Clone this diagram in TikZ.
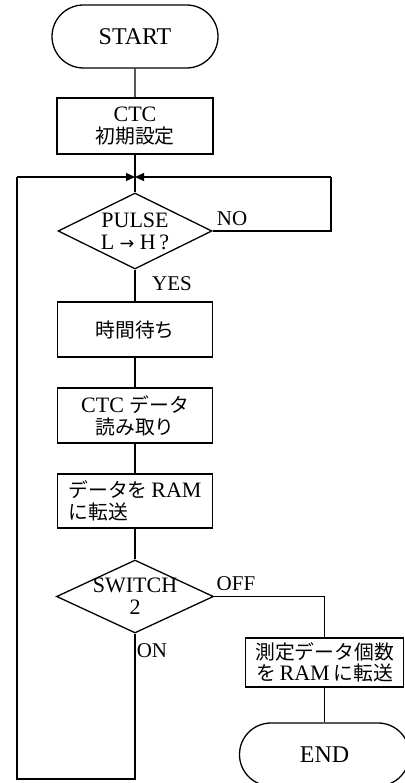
\documentclass[tikz,border=0pt]{standalone}
\usepackage{fontspec}
\setmainfont{Liberation Serif}
\newfontfamily\jp[Scale=0.9]{Noto Sans CJK JP}
\newfontfamily\sym[Scale=0.8]{DejaVu Sans}
\usetikzlibrary{arrows.meta,shapes.geometric,shapes.misc}
\newcommand\J[1]{{\jp #1}}
\begin{document}
\begin{tikzpicture}[x=1pt,y=-1pt, line width=1.3pt,
 every node/.style={font=\fontsize{22}{24}\selectfont},
 term/.style={draw, rounded rectangle, minimum width=166pt, minimum height=63pt, inner sep=0pt, font=\fontsize{24}{26}\selectfont},
 proc/.style={draw, rectangle, minimum width=155pt, minimum height=55pt, inner sep=0pt, align=center},
 dec/.style={draw, diamond, aspect=2, inner sep=-6pt, align=center, font=\fontsize{22}{24}\selectfont},
 lbl/.style={font=\fontsize{21}{22}\selectfont, inner sep=0pt},
 arr/.style={-{Triangle[length=9pt,width=8pt]}}]
\useasboundingbox (0,0) rectangle (404,783);

% nodes
\node[term] (start) at (135,36.5) {START};
\node[proc, minimum width=156pt, minimum height=56pt] (ctc) at (135,126) {CTC\\[-2pt]\J{初期設定}};
\coordinate (j) at (135,177);
\node[dec, minimum width=154pt, minimum height=76pt] (d1) at (135,231) {PULSE\\[-2pt]L {\sym →} H\,?};
\node[proc] (wait) at (135,329.5) {\J{時間待ち}};
\node[proc] (read) at (135,415.5) {CTC \J{データ}\\[-2pt]\J{読み取り}};
\node[proc, minimum height=54pt, align=left] (xfer) at (135,501) {\J{データを}\,RAM\\[-2pt]\J{に転送}};
\node[dec, minimum width=157pt, minimum height=73pt] (d2) at (135,596.5) {SWITCH\\[-2pt]2};
\node[proc, minimum width=158pt, minimum height=49pt] (cnt) at (324.5,662.5) {\J{測定データ個数}\\[-3pt]\J{を}\,RAM\,\J{に転送}};
\node[term, minimum width=170pt] (end) at (324.5,754.5) {END};

% labels
\node[lbl] (no) at (232,219) {NO};
\node[lbl] (yes) at (172,284) {YES};
\node[lbl] (off) at (236,584) {OFF};
\node[lbl] (on) at (152,651) {ON};

% loop coordinates
\coordinate (r1) at (331,231);
\coordinate (r2) at (331,177);
\coordinate (l1) at (135,779);
\coordinate (l2) at (17,779);
\coordinate (l3) at (17,177);
\coordinate (o1) at (324.5,596.5);

% connectors
\draw (start) -- (ctc);
\draw (ctc) -- (j) -- (d1.north);
\draw (d1) -- (wait);
\draw (wait) -- (read);
\draw (read) -- (xfer);
\draw (xfer) -- (d2.north);
\draw (d1.east) -- (r1) -- (r2);
\draw[arr] (r2) -- (j);
\draw (d2.south) -- (l1) -- (l2) -- (l3);
\draw[arr] (l3) -- (j);
\draw (d2.east) -- (o1) -- (cnt.north);
\draw (cnt) -- (end);
\end{tikzpicture}
\end{document}
